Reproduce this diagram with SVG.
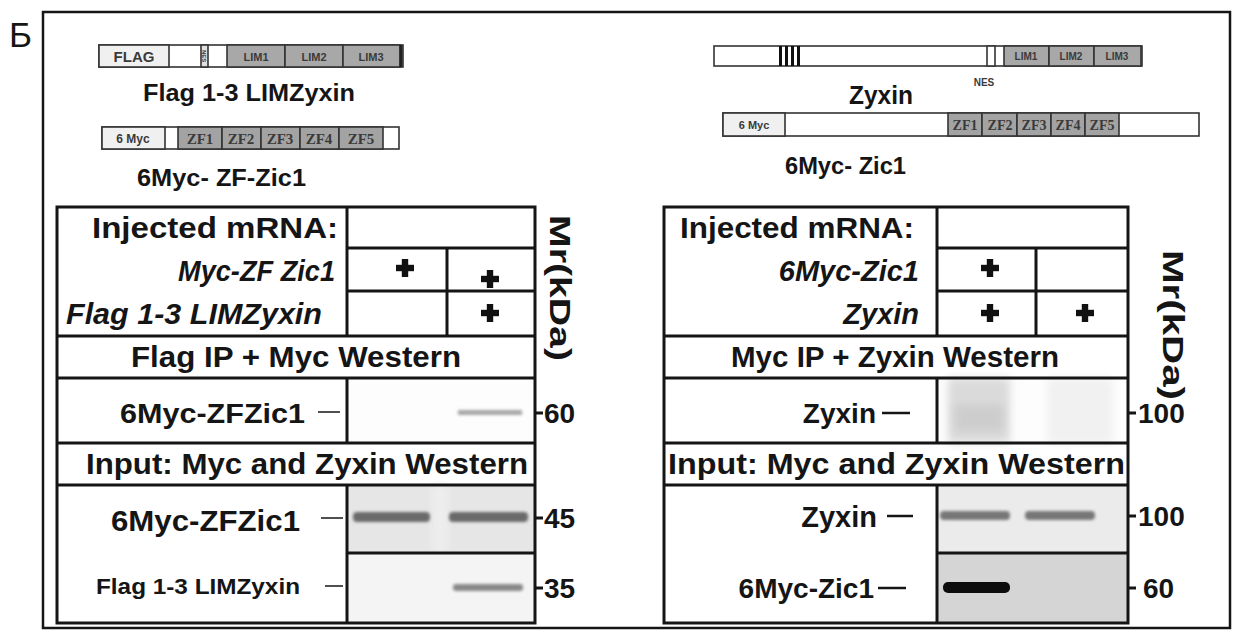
<svg xmlns="http://www.w3.org/2000/svg" width="1238" height="639" viewBox="0 0 1238 639">
<style>
.t{font-family:"Liberation Sans",Arial,sans-serif;font-weight:bold;fill:#151515}
.it{font-style:italic}
.ln{stroke:#151515;stroke-width:3;fill:none}
.thin{stroke:#222;stroke-width:1.6;fill:none}
.bx{stroke:#333;stroke-width:1.6}
.lim{fill:#a8a8a8}
.zf{fill:#a3a3a3}
.lt{fill:#f0f0f0}
.sm{font-family:"Liberation Sans",Arial,sans-serif;font-weight:bold;fill:#3a3a3a}
.zt{font-family:"Liberation Serif","Times New Roman",serif;font-weight:bold;fill:#3a3a3a}
</style>
<defs>
<g id="plus"><rect x="-9" y="-3.2" width="18" height="6.4" fill="#111"/><rect x="-3.2" y="-9" width="6.4" height="18" fill="#111"/></g>
<filter id="blur" x="-20%" y="-100%" width="140%" height="300%"><feGaussianBlur stdDeviation="1.6"/></filter>
<filter id="blur2" x="-20%" y="-20%" width="140%" height="140%"><feGaussianBlur stdDeviation="4"/></filter>
</defs>
<rect width="1238" height="639" fill="#fff"/>
<text class="t" x="9" y="47" style="font-weight:normal;font-size:35px">Б</text>
<rect x="43" y="12" width="1187" height="616" fill="none" stroke="#151515" stroke-width="2.5"/>

<!-- top-left constructs -->
<g id="flag-lim-construct">
<rect x="99" y="45" width="304" height="22" fill="#fff" class="bx"/>
<rect x="99" y="45" width="70" height="22" class="lt bx"/>
<text class="sm" x="134" y="62" font-size="15" text-anchor="middle">FLAG</text>
<rect x="201" y="45" width="7" height="22" fill="#e0e0e0" class="bx"/>
<text class="sm" transform="translate(202,50) rotate(90)" font-size="6">NES</text>
<rect x="227" y="45" width="58" height="22" class="lim bx"/>
<rect x="285" y="45" width="58" height="22" class="lim bx"/>
<rect x="343" y="45" width="57" height="22" class="lim bx"/>
<line x1="401" y1="45" x2="401" y2="67" stroke="#222" stroke-width="3"/>
<text class="sm" x="256" y="61" font-size="11" text-anchor="middle">LIM1</text>
<text class="sm" x="314" y="61" font-size="11" text-anchor="middle">LIM2</text>
<text class="sm" x="371" y="61" font-size="11" text-anchor="middle">LIM3</text>
<text class="t" x="143" y="101" font-size="24" textLength="212" lengthAdjust="spacingAndGlyphs">Flag 1-3 LIMZyxin</text>
</g>
<g id="myc-zf-construct">
<rect x="102" y="127" width="297" height="22" fill="#fff" class="bx"/>
<rect x="102" y="127" width="63" height="22" class="lt bx"/>
<text class="sm" x="133" y="143" font-size="12" text-anchor="middle">6 Myc</text>
<rect x="178" y="127" width="44" height="22" class="zf bx"/>
<rect x="222" y="127" width="39" height="22" class="zf bx"/>
<rect x="261" y="127" width="39" height="22" class="zf bx"/>
<rect x="300" y="127" width="39" height="22" class="zf bx"/>
<rect x="339" y="127" width="44" height="22" class="zf bx"/>
<text class="zt" x="200" y="144" font-size="15" text-anchor="middle">ZF1</text>
<text class="zt" x="241" y="144" font-size="15" text-anchor="middle">ZF2</text>
<text class="zt" x="280" y="144" font-size="15" text-anchor="middle">ZF3</text>
<text class="zt" x="319" y="144" font-size="15" text-anchor="middle">ZF4</text>
<text class="zt" x="361" y="144" font-size="15" text-anchor="middle">ZF5</text>
<text class="t" x="137" y="186" font-size="24" textLength="169" lengthAdjust="spacingAndGlyphs">6Myc- ZF-Zic1</text>
</g>

<!-- top-right constructs -->
<g id="zyxin-construct">
<rect x="714" y="46" width="428" height="20" fill="#fff" class="bx"/>
<rect x="779" y="46" width="3" height="20" fill="#111"/>
<rect x="785" y="46" width="3" height="20" fill="#111"/>
<rect x="791" y="46" width="3" height="20" fill="#111"/>
<rect x="797" y="46" width="3" height="20" fill="#111"/>
<rect x="987" y="46" width="8" height="20" fill="#fff" class="bx"/>
<rect x="1004" y="46" width="45" height="20" class="lim bx"/>
<rect x="1049" y="46" width="45" height="20" class="lim bx"/>
<rect x="1094" y="46" width="47" height="20" class="lim bx"/>
<text class="sm" x="1026" y="60" font-size="10" text-anchor="middle">LIM1</text>
<text class="sm" x="1071" y="60" font-size="10" text-anchor="middle">LIM2</text>
<text class="sm" x="1117" y="60" font-size="10" text-anchor="middle">LIM3</text>
<text class="sm" x="984" y="86" font-size="10" text-anchor="middle">NES</text>
<text class="t" x="849" y="104" font-size="25" textLength="64" lengthAdjust="spacingAndGlyphs">Zyxin</text>
</g>
<g id="myc-zic1-construct">
<rect x="723" y="113" width="476" height="23" fill="#fff" class="bx"/>
<rect x="723" y="113" width="62" height="23" class="lt bx"/>
<text class="sm" x="754" y="129" font-size="11" text-anchor="middle">6 Myc</text>
<rect x="948" y="113" width="34" height="23" class="zf bx"/>
<rect x="982" y="113" width="35" height="23" class="zf bx"/>
<rect x="1017" y="113" width="34" height="23" class="zf bx"/>
<rect x="1051" y="113" width="34" height="23" class="zf bx"/>
<rect x="1085" y="113" width="34" height="23" class="zf bx"/>
<text class="zt" x="965" y="130" font-size="14" text-anchor="middle">ZF1</text>
<text class="zt" x="1000" y="130" font-size="14" text-anchor="middle">ZF2</text>
<text class="zt" x="1034" y="130" font-size="14" text-anchor="middle">ZF3</text>
<text class="zt" x="1068" y="130" font-size="14" text-anchor="middle">ZF4</text>
<text class="zt" x="1102" y="130" font-size="14" text-anchor="middle">ZF5</text>
<text class="t" x="785" y="174" font-size="23" textLength="121" lengthAdjust="spacingAndGlyphs">6Myc- Zic1</text>
</g>

<!-- left blots -->
<g id="left-blots">
<rect x="347" y="378" width="188" height="65" fill="#fdfdfd"/>
<rect x="458" y="410" width="64" height="5" fill="#8a8a8a" opacity="0.75" filter="url(#blur)"/>
<rect x="347" y="485" width="188" height="68" fill="#e6e6e6"/>
<rect x="432" y="485" width="16" height="68" fill="#eeeeee" filter="url(#blur2)"/>
<rect x="353" y="512" width="77" height="10" rx="4" fill="#6a6a6a" filter="url(#blur)"/>
<rect x="449" y="512" width="79" height="10" rx="4" fill="#6a6a6a" filter="url(#blur)"/>
<rect x="347" y="553" width="188" height="70" fill="#f4f4f4"/>
<rect x="453" y="584" width="70" height="7" rx="3" fill="#888" filter="url(#blur)"/>
</g>
<!-- right blots -->
<g id="right-blots">
<rect x="937" y="378" width="191" height="65" fill="#fdfdfd"/>
<rect x="948" y="378" width="62" height="65" fill="#dadada" filter="url(#blur2)"/>
<rect x="955" y="405" width="48" height="26" fill="#cdcdcd" filter="url(#blur2)"/>
<rect x="1047" y="378" width="66" height="65" fill="#f1f1f1" filter="url(#blur2)"/>
<rect x="937" y="485" width="191" height="68" fill="#ebebeb"/>
<rect x="940" y="511" width="70" height="9" rx="4" fill="#777" filter="url(#blur)"/>
<rect x="1025" y="511" width="70" height="9" rx="4" fill="#777" filter="url(#blur)"/>
<rect x="937" y="553" width="191" height="70" fill="#d5d5d5"/>
<rect x="943" y="582" width="67" height="11" rx="5" fill="#0d0d0d"/>
</g>

<!-- table lines -->
<g id="connectors">
<rect x="57" y="207" width="478" height="416" class="ln"/>
<line x1="347" y1="207" x2="347" y2="336" class="ln"/>
<line x1="447" y1="248" x2="447" y2="336" class="ln"/>
<line x1="347" y1="248" x2="535" y2="248" class="ln"/>
<line x1="347" y1="291" x2="535" y2="291" class="ln"/>
<line x1="57" y1="336" x2="535" y2="336" class="ln"/>
<line x1="57" y1="378" x2="535" y2="378" class="ln"/>
<line x1="347" y1="378" x2="347" y2="443" class="ln"/>
<line x1="57" y1="443" x2="535" y2="443" class="ln"/>
<line x1="57" y1="485" x2="535" y2="485" class="ln"/>
<line x1="347" y1="485" x2="347" y2="623" class="ln"/>
<line x1="347" y1="553" x2="535" y2="553" class="ln"/>
<line x1="535" y1="413" x2="543" y2="413" class="ln"/>
<line x1="535" y1="518" x2="543" y2="518" class="ln"/>
<line x1="535" y1="588" x2="543" y2="588" class="ln"/>
<line x1="318" y1="412" x2="340" y2="412" class="thin"/>
<line x1="321" y1="518" x2="343" y2="518" class="thin"/>
<line x1="325" y1="586" x2="343" y2="586" class="thin"/>

<rect x="664" y="207" width="464" height="416" class="ln"/>
<line x1="937" y1="207" x2="937" y2="336" class="ln"/>
<line x1="1036" y1="248" x2="1036" y2="336" class="ln"/>
<line x1="937" y1="248" x2="1128" y2="248" class="ln"/>
<line x1="937" y1="291" x2="1128" y2="291" class="ln"/>
<line x1="664" y1="336" x2="1128" y2="336" class="ln"/>
<line x1="664" y1="378" x2="1128" y2="378" class="ln"/>
<line x1="937" y1="378" x2="937" y2="443" class="ln"/>
<line x1="664" y1="443" x2="1128" y2="443" class="ln"/>
<line x1="664" y1="485" x2="1128" y2="485" class="ln"/>
<line x1="937" y1="485" x2="937" y2="623" class="ln"/>
<line x1="937" y1="553" x2="1128" y2="553" class="ln"/>
<line x1="1128" y1="413" x2="1136" y2="413" class="ln"/>
<line x1="1128" y1="516" x2="1136" y2="516" class="ln"/>
<line x1="1128" y1="588" x2="1136" y2="588" class="ln"/>
<line x1="882" y1="413" x2="910" y2="413" stroke="#151515" stroke-width="2.5"/>
<line x1="887" y1="516" x2="913" y2="516" stroke="#151515" stroke-width="2.5"/>
<line x1="878" y1="588" x2="906" y2="588" stroke="#151515" stroke-width="2.5"/>
</g>

<!-- plus marks -->
<g id="plus-marks">
<use href="#plus" x="405" y="268"/>
<use href="#plus" x="490" y="279"/>
<use href="#plus" x="490" y="313"/>
<use href="#plus" x="990" y="268"/>
<use href="#plus" x="990" y="313"/>
<use href="#plus" x="1085" y="313"/>
</g>

<!-- left table text -->
<g id="left-table-text">
<text class="t" x="92" y="238" font-size="29" textLength="246" lengthAdjust="spacingAndGlyphs">Injected mRNA:</text>
<text class="t it" x="178" y="281" font-size="29" textLength="157" lengthAdjust="spacingAndGlyphs">Myc-ZF Zic1</text>
<text class="t it" x="66" y="324" font-size="29" textLength="256" lengthAdjust="spacingAndGlyphs">Flag 1-3 LIMZyxin</text>
<text class="t" x="296" y="367" font-size="29" text-anchor="middle" textLength="330" lengthAdjust="spacingAndGlyphs">Flag IP + Myc Western</text>
<text class="t" x="120" y="423" font-size="27" textLength="185" lengthAdjust="spacingAndGlyphs">6Myc-ZFZic1</text>
<text class="t" x="86" y="474" font-size="29" textLength="442" lengthAdjust="spacingAndGlyphs">Input: Myc and Zyxin Western</text>
<text class="t" x="111" y="531" font-size="29" textLength="189" lengthAdjust="spacingAndGlyphs">6Myc-ZFZic1</text>
<text class="t" x="96" y="594" font-size="22" textLength="204" lengthAdjust="spacingAndGlyphs">Flag 1-3 LIMZyxin</text>
<text class="t" x="544" y="423" font-size="28">60</text>
<text class="t" x="544" y="528" font-size="28">45</text>
<text class="t" x="544" y="598" font-size="28">35</text>
<text class="t" transform="translate(550,215) rotate(90)" font-size="29" textLength="146" lengthAdjust="spacingAndGlyphs">Mr(kDa)</text>
</g>

<!-- right table text -->
<g id="right-table-text">
<text class="t" x="680" y="238" font-size="29" textLength="234" lengthAdjust="spacingAndGlyphs">Injected mRNA:</text>
<text class="t it" x="919" y="281" font-size="29" text-anchor="end">6Myc-Zic1</text>
<text class="t it" x="919" y="324" font-size="29" text-anchor="end">Zyxin</text>
<text class="t" x="895" y="367" font-size="29" text-anchor="middle" textLength="328" lengthAdjust="spacingAndGlyphs">Myc IP + Zyxin Western</text>
<text class="t" x="876" y="423" font-size="28" text-anchor="end">Zyxin</text>
<text class="t" x="668" y="474" font-size="29" textLength="457" lengthAdjust="spacingAndGlyphs">Input: Myc and Zyxin Western</text>
<text class="t" x="877" y="527" font-size="29" text-anchor="end">Zyxin</text>
<text class="t" x="874" y="598" font-size="28" text-anchor="end">6Myc-Zic1</text>
<text class="t" x="1138" y="423" font-size="28">100</text>
<text class="t" x="1138" y="526" font-size="28">100</text>
<text class="t" x="1143" y="598" font-size="28">60</text>
<text class="t" transform="translate(1163,250) rotate(90)" font-size="29" textLength="150" lengthAdjust="spacingAndGlyphs">Mr(kDa)</text>
</g>
</svg>
